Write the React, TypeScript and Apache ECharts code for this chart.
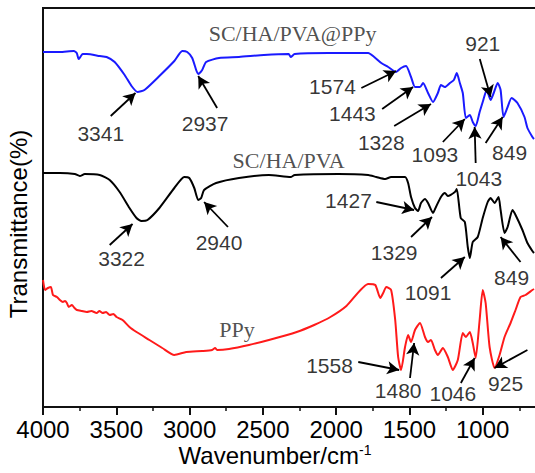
import React, { useEffect, useRef } from "react";
import * as echarts from "echarts";

// [wavenumber (cm-1), transmittance (arb. units, offset)]
const blueData: number[][] = [
  [4000, 355], [3885, 355], [3790, 356], [3770, 354], [3756, 348], [3729, 353], [3701, 353], [3613, 351],
  [3566, 350], [3511, 345], [3443, 332], [3396, 321], [3355, 315], [3308, 317], [3206, 331], [3104, 346],
  [3050, 356], [3016, 355], [2982, 349], [2955, 337], [2941, 333], [2914, 337], [2887, 345], [2799, 349],
  [2663, 350], [2493, 352], [2324, 353], [2310, 350], [2283, 353], [2052, 354], [1781, 354], [1740, 350],
  [1692, 344], [1645, 340], [1591, 335], [1557, 339], [1523, 341], [1489, 330], [1462, 320], [1428, 320],
  [1407, 324], [1373, 314], [1339, 305], [1306, 314], [1285, 322], [1258, 320], [1224, 324], [1197, 327],
  [1177, 334], [1156, 324], [1136, 314], [1115, 289], [1088, 292], [1068, 285], [1048, 281], [1021, 295],
  [1000, 305], [973, 317], [946, 307], [925, 314], [898, 324], [878, 317], [858, 290], [830, 300],
  [803, 309], [763, 304], [715, 290], [695, 279], [661, 270], [650, 268],
];

const blackData: number[][] = [
  [4000, 234], [3885, 234], [3783, 233], [3749, 231], [3715, 233], [3613, 232], [3545, 227], [3477, 215],
  [3410, 199], [3362, 189], [3328, 186], [3287, 187], [3206, 199], [3104, 219], [3036, 230], [3002, 229],
  [2968, 219], [2941, 207], [2921, 209], [2901, 217], [2819, 224], [2663, 229], [2459, 232], [2310, 230],
  [2283, 232], [1984, 233], [1781, 232], [1726, 230], [1665, 228], [1625, 230], [1530, 230], [1509, 224],
  [1489, 210], [1462, 199], [1441, 196], [1421, 204], [1394, 208], [1373, 204], [1339, 194], [1319, 200],
  [1285, 210], [1258, 214], [1238, 211], [1190, 215], [1177, 218], [1150, 189], [1122, 185], [1102, 160],
  [1088, 149], [1068, 165], [1034, 170], [1000, 189], [966, 205], [946, 209], [919, 204], [892, 210],
  [878, 197], [851, 174], [830, 180], [797, 197], [776, 192], [729, 177], [695, 164], [661, 156],
  [650, 154],
];

const redData: number[][] = [
  [4000, 127], [3986, 117], [3966, 119], [3946, 120], [3932, 112], [3905, 110], [3885, 107], [3864, 105],
  [3850, 106], [3837, 104], [3824, 100], [3803, 102], [3785, 99], [3769, 97], [3735, 96], [3701, 95],
  [3670, 96], [3634, 94], [3615, 96], [3593, 94], [3570, 95], [3545, 92], [3520, 93], [3498, 90],
  [3457, 87], [3410, 80], [3362, 75], [3274, 67], [3186, 59], [3104, 52], [3023, 55], [2914, 56],
  [2846, 57], [2826, 59], [2812, 57], [2731, 58], [2595, 62], [2459, 67], [2269, 75], [2150, 82],
  [2039, 90], [1930, 101], [1781, 123], [1733, 122], [1699, 109], [1679, 114], [1658, 120], [1625, 117],
  [1597, 87], [1577, 50], [1557, 37], [1530, 60], [1509, 72], [1489, 65], [1462, 77], [1428, 84],
  [1394, 70], [1373, 65], [1353, 67], [1326, 57], [1306, 52], [1272, 59], [1238, 50], [1204, 37],
  [1170, 47], [1136, 74], [1115, 70], [1088, 75], [1068, 64], [1048, 49], [1021, 87], [1000, 117],
  [980, 104], [953, 60], [919, 39], [885, 52], [851, 70], [810, 84], [776, 97], [742, 110],
  [708, 112], [661, 117], [650, 118],
];

// peak annotations: label text, label position, arrow tail, arrow head
const peakLabels: string[] = [
  "3341", "2937", "1574", "1443", "1328", "1093", "1043", "921", "849",
  "3322", "2940", "1427", "1329", "1091", "849",
  "1558", "1480", "1046", "925",
];
const labelPos: number[][] = [
  [3606, 274], [2894, 284], [2025, 321], [1889, 294], [1692, 265], [1326, 253], [1027, 229], [1000, 364], [817, 255],
  [3464, 149], [2799, 165], [1916, 207], [1604, 155], [1373, 115], [803, 130],
  [2045, 42], [1577, 17], [1204, 14], [844, 24],
];
const arrowTail: number[][] = [
  [3538, 291], [2812, 299], [1828, 319], [1686, 298], [1604, 281], [1272, 265], [1048, 244], [1020, 348], [980, 264],
  [3545, 162], [2738, 180], [1726, 205], [1489, 170], [1285, 129], [742, 145],
  [1849, 45], [1496, 29], [1149, 24], [695, 57],
];
const arrowHead: number[][] = [
  [3369, 314], [2941, 331], [1591, 336], [1475, 320], [1353, 303], [1122, 288], [1055, 280], [946, 310], [864, 290],
  [3389, 183], [2901, 205], [1468, 197], [1346, 190], [1122, 150], [878, 170],
  [1570, 37], [1468, 64], [1055, 49], [919, 39],
];

const seriesNames: string[] = ["SC/HA/PVA@PPy", "SC/HA/PVA", "PPy"];
const namePos: number[][] = [[2297, 374], [2324, 247], [2677, 78]];

const xTicks = { min: 500, max: 4000, interval: 500 };

const SANS = "Arial, 'Liberation Sans', sans-serif";
const SERIF = "'Times New Roman', 'Liberation Serif', serif";

export default function App() {
  const ref = useRef<HTMLDivElement>(null);
  useEffect(() => {
    if (!ref.current) return;
    const chart = echarts.init(ref.current, null, { renderer: "svg" });
    const arrows = arrowTail.map((t, i) => [
      { coord: t },
      { coord: arrowHead[i] },
    ]);
    chart.setOption({
      animation: false,
      backgroundColor: "#fff",
      grid: {
        left: 43,
        top: 8,
        bottom: 66,
        right: 0,
        show: true,
        borderColor: "#111",
        borderWidth: 2,
        containLabel: false,
      },
      xAxis: {
        type: "value",
        inverse: true,
        min: xTicks.min,
        max: xTicks.max,
        interval: xTicks.interval,
        axisLine: { show: true, onZero: false, lineStyle: { color: "#111", width: 2 } },
        axisTick: { show: true, inside: false, length: 8, lineStyle: { color: "#111", width: 2 } },
        minorTick: { show: true, splitNumber: 2, length: 4, lineStyle: { color: "#111", width: 1.5 } },
        splitLine: { show: false },
        axisLabel: {
          color: "#000",
          fontSize: 24,
          fontFamily: SANS,
          margin: 10,
          formatter: (v: number) => (v === xTicks.min ? "" : String(v)),
        },
      },
      yAxis: {
        type: "value",
        min: 0,
        max: 399,
        axisLine: { show: true, lineStyle: { color: "#111", width: 2 } },
        axisTick: { show: false },
        axisLabel: { show: false },
        splitLine: { show: false },
      },
      graphic: [
        {
          type: "text",
          x: 18,
          y: 224,
          rotation: Math.PI / 2,
          style: {
            text: "Transmittance(%)",
            font: `24px ${SANS}`,
            fill: "#000",
            textAlign: "center",
            textVerticalAlign: "middle",
          },
        },
        {
          type: "text",
          x: 275,
          y: 455,
          style: {
            text: "Wavenumber/cm{sup|-1}",
            font: `24px ${SANS}`,
            fill: "#000",
            textAlign: "center",
            textVerticalAlign: "middle",
            rich: {
              sup: { fontSize: 14, fontFamily: SANS, verticalAlign: "top", fill: "#000" },
            },
          },
        },
      ],
      series: [
        {
          type: "line",
          data: blueData,
          showSymbol: false,
          smooth: 0.2,
          lineStyle: { color: "#1a1aff", width: 2 },
          clip: true,
        },
        {
          type: "line",
          data: blackData,
          showSymbol: false,
          smooth: 0.2,
          lineStyle: { color: "#000", width: 2 },
          clip: true,
        },
        {
          type: "line",
          data: redData,
          showSymbol: false,
          smooth: 0.2,
          lineStyle: { color: "#ff1a1a", width: 2 },
          clip: true,
          markLine: {
            silent: true,
            symbol: ["none", "arrow"],
            symbolSize: [10, 12],
            label: { show: false },
            lineStyle: { color: "#000", width: 1.8, type: "solid" },
            data: arrows,
          },
        },
        {
          type: "scatter",
          data: labelPos.map((p, i) => [p[0], p[1], peakLabels[i]]),
          symbolSize: 1,
          itemStyle: { color: "rgba(0,0,0,0)" },
          label: {
            show: true,
            position: "inside",
            formatter: (p: any) => p.value[2],
            color: "#000",
            fontSize: 21,
            fontFamily: SANS,
          },
          silent: true,
        },
        {
          type: "scatter",
          data: namePos.map((p, i) => [p[0], p[1], seriesNames[i]]),
          symbolSize: 1,
          itemStyle: { color: "rgba(0,0,0,0)" },
          label: {
            show: true,
            position: "inside",
            formatter: (p: any) => p.value[2],
            color: "#222",
            fontSize: 22,
            fontFamily: SERIF,
          },
          silent: true,
        },
      ],
    });
    return () => chart.dispose();
  }, []);
  return (
    <div
      style={{
        position: "fixed",
        left: 0,
        top: 0,
        width: 535,
        height: 473,
        overflow: "hidden",
        background: "#fff",
      }}
    >
      <div ref={ref} style={{ width: 559, height: 473 }} />
    </div>
  );
}
